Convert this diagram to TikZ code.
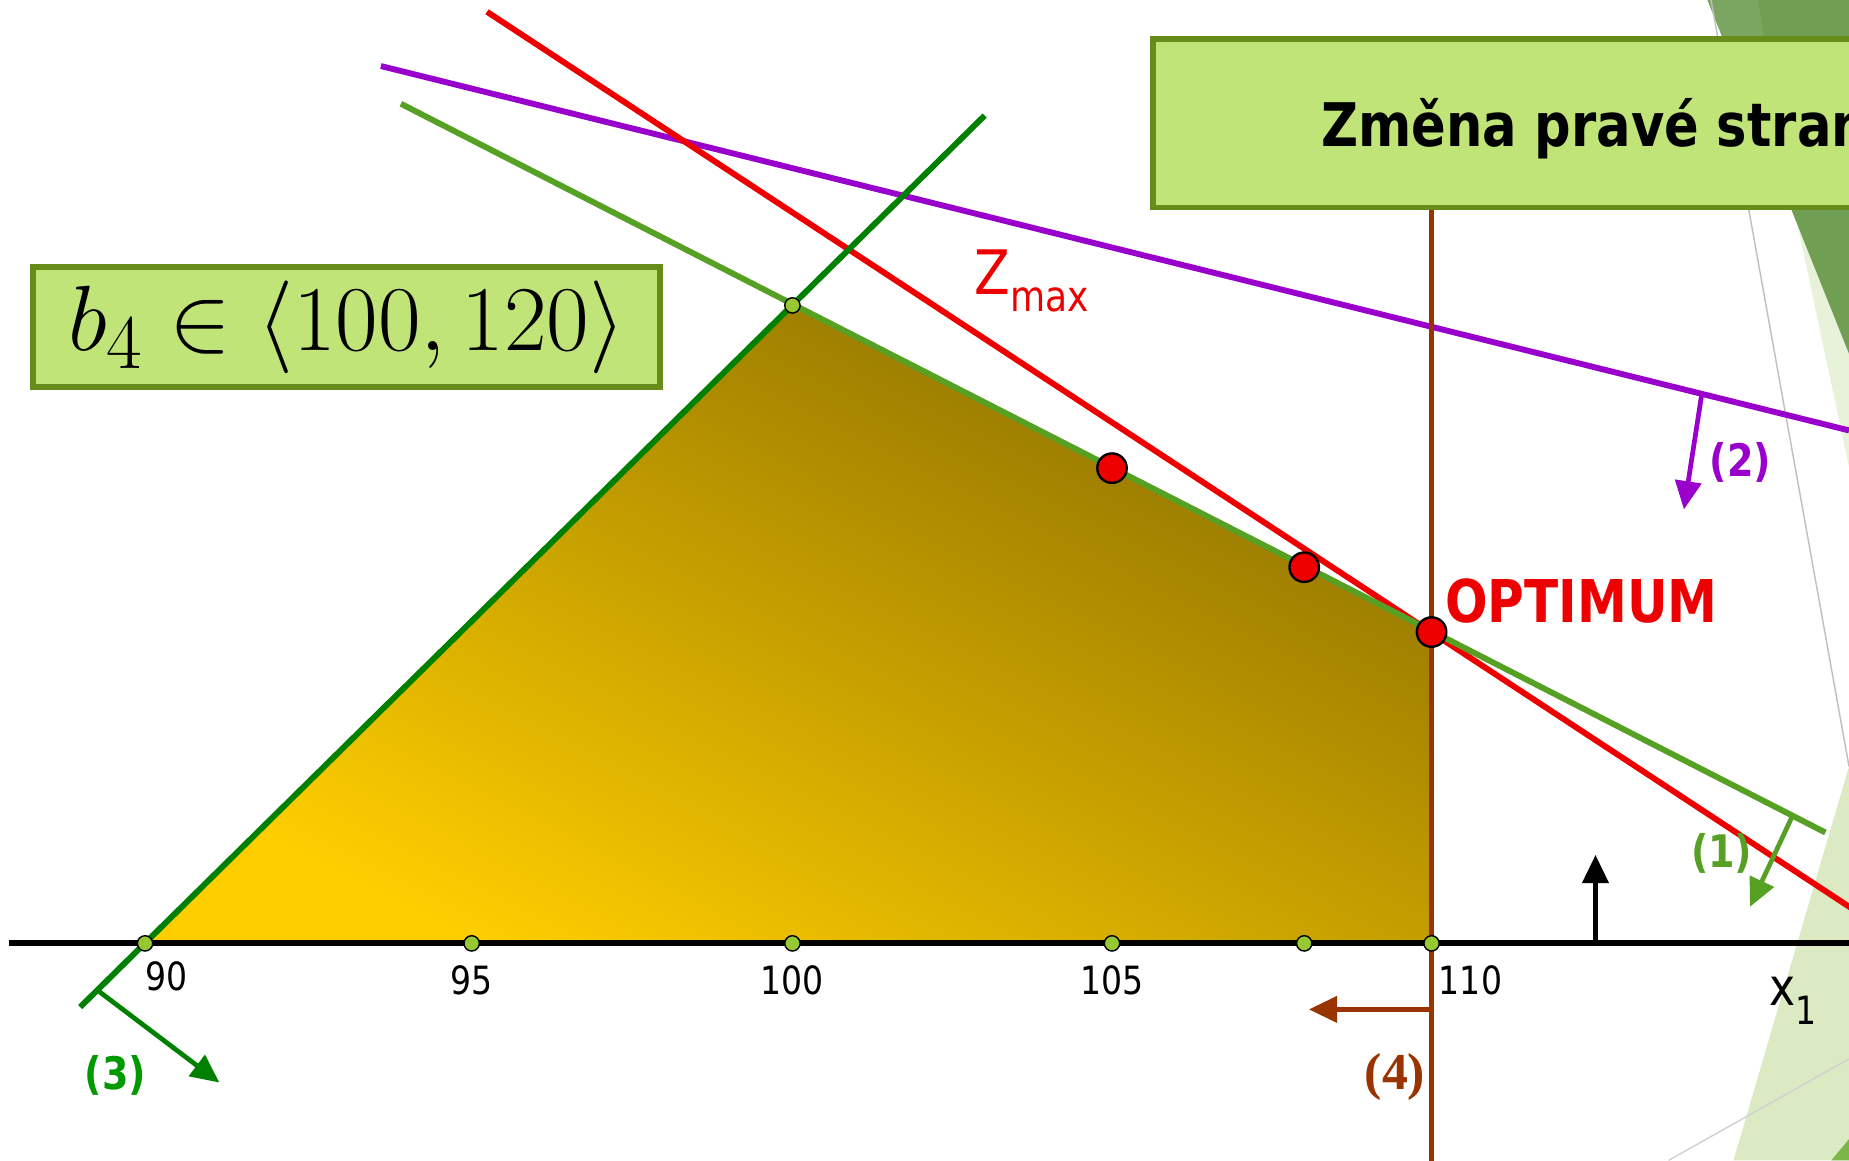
\documentclass[tikz,border=0pt]{standalone}
\usepackage{graphicx}
\usepackage{fontspec}
\usetikzlibrary{arrows.meta}
\newfontfamily\tah[FakeStretch=0.85]{DejaVu Sans}
\newfontfamily\serb{Liberation Serif}
\definecolor{boxfill}{RGB}{192,228,120}
\definecolor{boxdraw}{RGB}{104,140,26}
\definecolor{purp}{RGB}{153,0,204}
\definecolor{zred}{RGB}{238,0,0}
\definecolor{lgreen}{RGB}{86,160,36}
\definecolor{dgreen}{RGB}{0,128,0}
\definecolor{three}{RGB}{0,153,0}
\definecolor{brownfour}{RGB}{153,51,0}
\definecolor{dotgreen}{RGB}{150,200,50}
\definecolor{yel}{RGB}{255,206,0}
\definecolor{darkolive}{RGB}{140,112,0}
\definecolor{bgdark}{RGB}{112,158,82}
\definecolor{bglight}{RGB}{122,166,98}
\definecolor{bgpale}{RGB}{220,234,196}
\definecolor{bgpaler}{RGB}{232,242,216}
\definecolor{bgmid}{RGB}{122,182,72}
\tikzset{
  cline/.style={line width=2.5pt},
  carrow/.style={line width=2pt,-{Triangle[length=12pt,width=11pt]}},
  gdot/.style={circle,draw=black,fill=dotgreen,line width=0.6pt,inner sep=0pt,minimum size=6.5pt},
  rdot/.style={circle,draw=black,fill=zred,line width=1pt,inner sep=0pt,minimum size=12.5pt},
  ticklab/.style={font=\tah\fontsize{16.5}{18}\selectfont,text=black,inner sep=0pt},
  lab/.style={font=\tah\bfseries\fontsize{19}{22}\selectfont,inner sep=0pt},
  greenbox/.style={draw=boxdraw,fill=boxfill,line width=2.5pt}
}
\begin{document}
\begin{tikzpicture}[x=0.5pt,y=-0.5pt]
\useasboundingbox (0,0) rectangle (1568,984);
\clip (0,0) rectangle (1568,984);
% background decorations on the right
\fill[bgpaler] (1520,170) -- (1568,300) -- (1568,396) -- cycle;
\fill[bgdark] (1448,0) -- (1568,0) -- (1568,300) -- cycle;
\fill[bglight] (1448,0) -- (1491,0) -- (1497,40) -- (1464,40) -- cycle;
\draw[black!25, line width=0.6pt] (1451,0) -- (1568,650);
\fill[bgpale] (1568,650) -- (1470,984) -- (1568,984) -- cycle;
\draw[black!18, line width=0.6pt] (1415,984) -- (1568,898);
\fill[bgmid] (1553,984) -- (1568,966) -- (1568,984) -- cycle;

% key points
\coordinate (P90) at (123,800);
\coordinate (P95) at (400,800);
\coordinate (P100) at (672,800);
\coordinate (P105) at (943,800);
\coordinate (P108) at (1106,800);
\coordinate (P110) at (1214,800);
\coordinate (V) at (672,259);
\coordinate (O) at (1214,536);
\coordinate (R1) at (943,397);
\coordinate (R2) at (1106,481);

% feasible region
\shade[top color=darkolive, bottom color=yel, shading angle=-27]
  (P90) -- (V) -- (O) -- (P110) -- cycle;

% constraint lines
\coordinate (pa) at (323,56);  \coordinate (pb) at (1568,365);
\draw[cline, purp] (pa) -- (pb);
\coordinate (za) at (413,10);  \coordinate (zb) at (1620,803);
\draw[cline, zred] (za) -- (zb);
\coordinate (ga) at (340,88);  \coordinate (gb) at (1548,706);
\draw[cline, lgreen] (ga) -- (gb);
\coordinate (da) at (68,854);  \coordinate (db) at (835,98);
\draw[cline, dgreen] (da) -- (db);
\coordinate (ba) at (1214,176); \coordinate (bb) at (1214,990);
\draw[line width=2pt, brownfour] (ba) -- (bb);
% x axis
\coordinate (xa) at (8,800); \coordinate (xb) at (1570,800);
\draw[line width=2.5pt, black] (xa) -- (xb);

% direction arrows
\coordinate (a2s) at (1443,335); \coordinate (a2e) at (1428,432);
\draw[carrow, purp] (a2s) -- (a2e);
\coordinate (a1s) at (1520,692); \coordinate (a1e) at (1484,769);
\draw[carrow, lgreen] (a1s) -- (a1e);
\coordinate (a3s) at (83,840); \coordinate (a3e) at (186,918);
\draw[carrow, dgreen] (a3s) -- (a3e);
\coordinate (a4s) at (1214,856); \coordinate (a4e) at (1110,856);
\draw[carrow, brownfour] (a4s) -- (a4e);
\coordinate (a5s) at (1353,801); \coordinate (a5e) at (1353,725);
\draw[carrow, black] (a5s) -- (a5e);

% points
\foreach \p in {P90,P95,P100,P105,P108,P110,V}
  \node[gdot] at (\p) {};
\node[rdot] (r1) at (R1) {};
\node[rdot] (r2) at (R2) {};
\node[rdot] (opt) at (O) {};

% tick labels
\node[ticklab] (t90) at (141,828) {90};
\node[ticklab] (t95) at (400,831) {95};
\node[ticklab] (t100) at (672,831) {100};
\node[ticklab] (t105) at (943,831) {105};
\node[ticklab] (t110) at (1247,831) {110};
\node[anchor=base west, inner sep=0pt] (x1) at (1500,853)
  {\tah\fontsize{22}{24}\selectfont x\raisebox{-0.35em}{\fontsize{16.5}{18}\selectfont 1}};

% labels
\node[lab, text=purp] (l2) at (1476,392) {(2)};
\node[lab, text=lgreen] (l1) at (1460,724) {(1)};
\node[lab, text=three] (l3) at (98,912) {(3)};
\node[inner sep=0pt, text=brownfour, font=\serb\bfseries\fontsize{22}{24}\selectfont] (l4) at (1183,913) {(4)};
\node[anchor=base west, inner sep=0pt, text=zred] (zmax) at (826,250)
  {\tah\fontsize{26}{28}\selectfont Z\raisebox{-0.28em}{\fontsize{18}{20}\selectfont max}};
\node[anchor=base west, inner sep=0pt, text=zred, font=\tah\bfseries\fontsize{25}{27}\selectfont] (optlab) at (1225,528) {OPTIMUM};

% boxes
\node[greenbox, minimum width=266pt, minimum height=51pt, inner sep=0pt] (b4) at (294,277.5)
  {\fontsize{24.88}{28}\selectfont\scalebox{1.58}{$b_4\in\langle 100,120\rangle$}};
\draw[greenbox] (978,33) rectangle (1600,176);
\node[anchor=base west, inner sep=0pt, font=\tah\bfseries\fontsize{25.5}{28}\selectfont] (title) at (1120,124) {Změna pravé strany};
\end{tikzpicture}
\end{document}
